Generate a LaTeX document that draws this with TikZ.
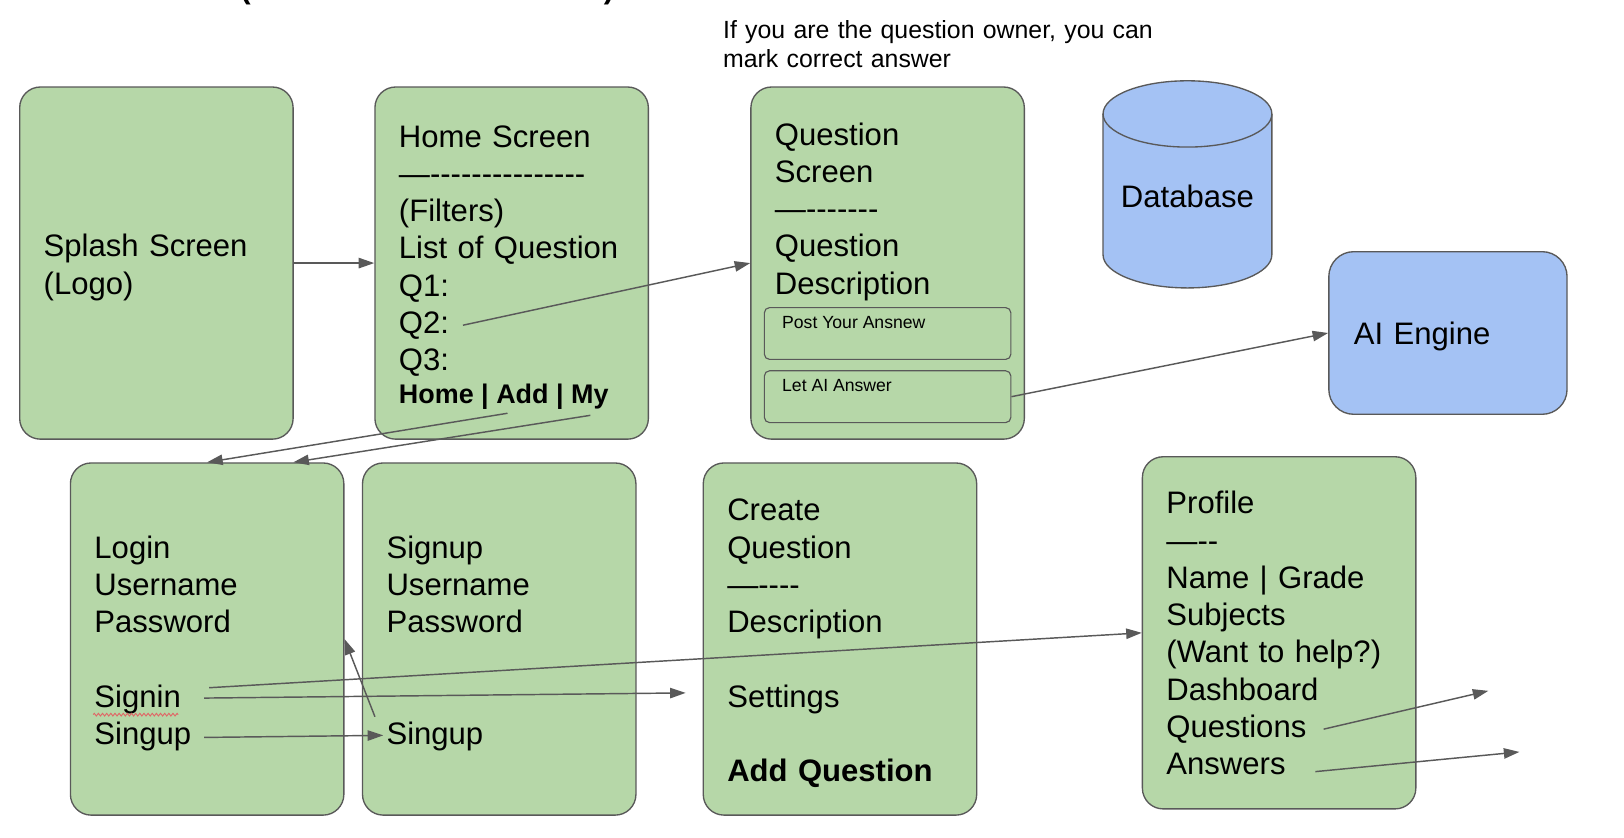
\documentclass[tikz,border=0pt]{standalone}
\usepackage{fontspec}
\setmainfont{Liberation Sans}
\usetikzlibrary{arrows.meta,decorations.pathmorphing}

\definecolor{screengreen}{HTML}{B6D7A8}
\definecolor{engineblue}{HTML}{A4C2F4}
\definecolor{edgegray}{HTML}{595959}
\definecolor{spellred}{HTML}{E06666}

% em dash followed by plain hyphens (no TeX ligatures)
\newcommand{\dashrun}[1]{—\foreach \k in {1,...,#1}{-\kern0pt}}

\begin{document}
\begin{tikzpicture}[x=1pt,y=-1pt,
    screenbox/.style={draw=edgegray, fill=screengreen, line width=1.3pt,
        rounded corners=20pt, minimum width=264pt, minimum height=340pt, inner sep=0pt},
    subbox/.style={draw=edgegray, fill=screengreen, line width=1.1pt,
        rounded corners=5pt, minimum width=238pt, minimum height=50pt, inner sep=0pt},
    enginebox/.style={draw=edgegray, fill=engineblue, line width=1.3pt,
        rounded corners=24pt, minimum width=230pt, minimum height=157pt, inner sep=0pt},
    textblock/.style={anchor=base west, inner sep=0pt, text width=260pt, align=left,
        font=\fontsize{30}{36}\selectfont},
    navtext/.style={anchor=base west, inner sep=0pt, font=\bfseries\fontsize{26}{32}\selectfont},
    smalltext/.style={anchor=base west, inner sep=0pt, font=\fontsize{17}{20}\selectfont},
    notetext/.style={anchor=base west, inner sep=0pt, text width=440pt, align=left,
        font=\fontsize{24}{28}\selectfont},
    link/.style={draw=edgegray, line width=1.4pt, -{Triangle[length=15pt,width=10pt]}}
]
\path[use as bounding box, fill=white] (0,0) rectangle (1568,809);

% cut-off title at the top
\node[anchor=base, inner sep=0pt, font=\bfseries\fontsize{30}{36}\selectfont] (lparen) at (237,-1) {(};
\node[anchor=base, inner sep=0pt, font=\bfseries\fontsize{30}{36}\selectfont] (rparen) at (588,-1) {)};

% top row
\node[screenbox] (splash) at (151,254) {};
\node[screenbox] (home) at (494,254) {};
\node[screenbox] (question) at (857,254) {};
\node[subbox] (post) at (857,322) {};
\node[subbox] (letai) at (857,383) {};
\node[enginebox] (engine) at (1398,321.5) {};

\node[textblock] (splashtxt) at (42,248) {Splash Screen\\(Logo)};
\node[textblock] (hometxt) at (385,142) {Home Screen\\\dashrun{15}\\(Filters)\\List of Question\\Q1:\\Q2:\\Q3:};
\node[navtext] (nav) at (385,390) {Home | Add | My};
\node[textblock] (questiontxt) at (748,140) {Question\\Screen\\\dashrun{7}\\Question\\Description};
\node[smalltext] (posttxt) at (755,317) {Post Your Ansnew};
\node[smalltext] (letaitxt) at (755,378) {Let AI Answer};
\node[notetext] (note) at (698,37) {If you are the question owner, you can\\mark correct answer};
\node[textblock] (enginetxt) at (1307,333) {AI Engine};

% database
\filldraw[draw=edgegray, fill=engineblue, line width=1.3pt]
    (1065,110) -- (1065,246) arc[start angle=180, end angle=360, x radius=81.5pt, y radius=32pt]
    -- (1228,110) arc[start angle=0, end angle=180, x radius=81.5pt, y radius=32pt] -- cycle;
\draw[edgegray, line width=1.3pt] (1065,110) arc[start angle=180, end angle=360, x radius=81.5pt, y radius=32pt];
\node[inner sep=0pt, font=\fontsize{30}{36}\selectfont] (db) at (1146.5,190) {Database};

% bottom row
\node[screenbox] (login) at (200,617) {};
\node[screenbox] (signup) at (482,617) {};
\node[screenbox] (create) at (811,617) {};
\node[screenbox] (profile) at (1235,611) {};

\node[textblock] (logintxt) at (91,539) {Login\\Username\\Password\\[36pt]Signin\\Singup};
\draw[spellred, line width=0.9pt, decorate, decoration={zigzag, amplitude=1.3pt, segment length=4pt}]
    (90,690) -- (172,690);
\node[textblock] (signuptxt) at (373,539) {Signup\\Username\\Password\\[72pt]Singup};
\node[textblock] (createtxt) at (702,503) {Create\\Question\\\dashrun{4}\\Description\\[36pt]Settings\\[36pt]\textbf{Add Question}};
\node[textblock] (profiletxt) at (1126,496) {Profile\\\dashrun{2}\\Name | Grade\\Subjects\\(Want to help?)\\Dashboard\\Questions\\Answers};

% arrow ends beside the text lines
\coordinate (q2end) at (447,314);
\coordinate (navadd) at (490,399);
\coordinate (navmy) at (570,401);
\coordinate (signinA) at (202,664);
\coordinate (signinB) at (197,674);
\coordinate (singupA) at (197,712);
\coordinate (singupB) at (362,692);
\coordinate (singupin) at (370,710);
\coordinate (settingsin) at (662,669);
\coordinate (questionsA) at (1278,704);
\coordinate (questionsB) at (1437,667);
\coordinate (answersA) at (1270,745);
\coordinate (answersB) at (1467,726);

\draw[link] (splash.east) -- (home.west);
\draw[link] (q2end) -- (question.west);
\draw[link] (letai.east) -- (engine.west);
\draw[link] (navadd) -- (login.north);
\draw[link] (navmy) -- (login.64);
\draw[link] (signinA) -- (profile.west);
\draw[link] (signinB) -- (settingsin);
\draw[link] (singupA) -- (singupin);
\draw[link] (singupB) -- (login.east);
\draw[link] (questionsA) -- (questionsB);
\draw[link] (answersA) -- (answersB);
\end{tikzpicture}
\end{document}
